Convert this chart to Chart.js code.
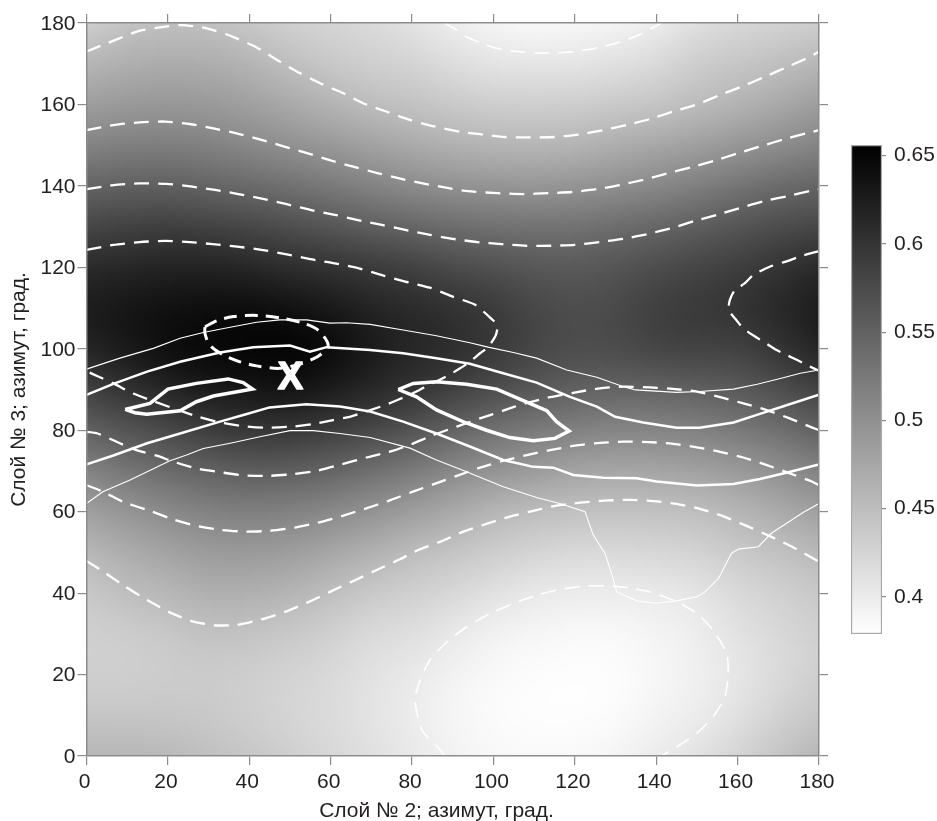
<!DOCTYPE html>
<html lang="ru">
<head>
<meta charset="utf-8">
<title>Слой № 2 / Слой № 3</title>
<script src="https://cdn.jsdelivr.net/npm/chart.js@4"></script>
<style>
    html, body { margin: 0; padding: 0; background: #fff; }
    #wrap { position: relative; width: 937px; height: 821px; overflow: hidden; }
    #mapChart { position: absolute; left: 0; top: 0; }
    #barChart { position: absolute; left: 841px; top: 135px; }
</style>
</head>
<body>
<div id="wrap">
    <canvas id="mapChart" width="937" height="821"></canvas>
    <canvas id="barChart" width="96" height="510"></canvas>
</div>
<script>
const xLabel = 'Слой № 2; азимут, град.';
const yLabel = 'Слой № 3; азимут, град.';
const azimuthTicks = [0, 20, 40, 60, 80, 100, 120, 140, 160, 180];
const barTicks = [0.65, 0.6, 0.55, 0.5, 0.45, 0.4];
const zMin = 0.379;
const zMax = 0.656;

// field: one list per azimuth of layer 2 (0, 10 ... 180),
// each going from layer 3 = 180 down to 0 in steps of 10
const z000 = [.432,.458,.484,.513,.547,.58,.612,.628,.619,.585,.551,.513,.482,.455,.437,.43,.43,.44,.458];
const z010 = [.444,.467,.489,.518,.551,.586,.615,.635,.632,.602,.565,.528,.493,.47,.449,.432,.43,.44,.458];
const z020 = [.449,.47,.491,.519,.552,.59,.62,.64,.645,.618,.576,.541,.505,.478,.457,.437,.433,.44,.455];
const z030 = [.448,.468,.489,.515,.547,.584,.62,.643,.65,.63,.59,.55,.515,.488,.466,.446,.434,.437,.448];
const z040 = [.44,.461,.483,.507,.541,.58,.615,.645,.654,.635,.597,.555,.518,.488,.466,.443,.431,.431,.44];
const z050 = [.43,.448,.472,.498,.533,.572,.606,.64,.656,.64,.597,.553,.515,.485,.46,.437,.426,.424,.432];
const z060 = [.425,.437,.46,.49,.524,.563,.603,.63,.649,.628,.59,.547,.507,.474,.449,.43,.42,.417,.422];
const z070 = [.42,.43,.449,.48,.513,.553,.595,.617,.63,.615,.578,.535,.496,.464,.436,.417,.41,.408,.413];
const z080 = [.41,.427,.444,.47,.504,.546,.588,.612,.616,.603,.567,.523,.484,.45,.43,.415,.402,.399,.403];
const z090 = [.398,.415,.437,.462,.498,.538,.575,.605,.61,.588,.548,.506,.472,.442,.422,.402,.392,.388,.393];
const z100 = [.39,.407,.432,.458,.494,.534,.57,.595,.597,.575,.533,.495,.456,.433,.411,.392,.385,.382,.387];
const z110 = [.385,.407,.431,.456,.492,.532,.562,.58,.582,.562,.523,.488,.449,.425,.402,.388,.381,.38,.385];
const z120 = [.388,.406,.432,.459,.495,.533,.56,.572,.573,.553,.515,.477,.445,.42,.398,.385,.38,.38,.385];
const z130 = [.39,.412,.437,.467,.5,.54,.565,.577,.576,.548,.51,.475,.444,.42,.399,.385,.38,.382,.39];
const z140 = [.398,.419,.44,.475,.507,.546,.575,.59,.585,.548,.511,.476,.445,.423,.4,.39,.387,.392,.4];
const z150 = [.415,.435,.45,.483,.518,.555,.583,.595,.588,.552,.515,.48,.447,.426,.405,.397,.394,.398,.41];
const z160 = [.422,.44,.46,.492,.53,.565,.589,.603,.583,.558,.524,.487,.457,.437,.42,.41,.405,.41,.425];
const z170 = [.428,.447,.473,.501,.541,.574,.601,.615,.601,.57,.535,.499,.47,.445,.428,.42,.418,.428,.443];
const z180 = [.432,.458,.484,.513,.547,.58,.612,.628,.619,.585,.551,.513,.482,.455,.437,.43,.43,.44,.458];
const zColumns = [z000, z010, z020, z030, z040, z050, z060, z070, z080, z090, z100, z110, z120, z130, z140, z150, z160, z170, z180];

// dashed level lines, [layer 2, layer 3]
const dashA = [[0,173],[7,175.8],[12.7,178],[18.5,179],[23.4,179.5],[29.6,178.7],[36,176.6],[41.8,174],[46.7,171],[52.4,167.7],[57.4,165.2],[63,162.8],[68,160.3],[73.8,158.2],[79.5,156.2],[85,154.7],[91.8,153.3],[96.7,152.7],[102.8,152],[109,151.9],[115,152],[120.8,152.6],[127,153.7],[132.8,155],[138.4,156.4],[144,158.2],[150,160],[155.6,162.3],[161.3,164.5],[166.7,166.8],[172.4,169.3],[177.8,171.7],[180,173]];
const dashB = [[0,153.7],[7,155],[13,155.6],[19.3,155.8],[25.4,155.2],[31.2,154.1],[36.9,152.9],[43,151.3],[48.8,149.6],[54.4,148],[60.2,146.2],[66,144.6],[71.7,143.1],[77.4,141.7],[83.2,140.5],[89.3,139.4],[93.7,138.7],[101,138.2],[107.3,138],[113.4,138.2],[119.3,138.5],[125.4,139.2],[131,140.2],[136.8,141.5],[142.9,143.1],[148.7,144.6],[154.4,146.2],[160,148],[165.9,149.8],[171.6,151.5],[177.3,153],[180,153.7]];
const dashC = [[0,139.2],[6.6,140.2],[13,140.6],[19.7,140.5],[26,139.8],[31.6,139],[37.3,138],[43.4,136.8],[49.2,135.5],[55,134.1],[61,132.9],[66.7,131.6],[72.6,130.4],[78.3,129.2],[84.4,128],[90,127],[96,126.2],[102,125.7],[108,125.3],[114,125.3],[120,125.5],[126,126.2],[132,127],[138,128.2],[144,129.7],[149.5,131.4],[155,132.9],[161,134.7],[166.7,136.3],[172.4,137.5],[178,138.8],[180,139.2]];
const dashD = [[0,124.3],[6.6,125.5],[13,126.2],[19.3,126.5],[25.4,126.2],[31,125.7],[37,125.1],[43,124.3],[49.2,123.2],[55,122],[61,121],[66.7,119.8],[72.6,118.1],[78.3,116.5],[84.4,115],[90,112.8],[95.5,110.8],[99.8,107.1],[101,105.8],[100.6,103.4],[98.7,100.4],[96.7,98.9],[94.2,96.8],[91.8,95.2],[89.3,93.7],[86.4,92.2],[84,91.1],[81.1,89.5],[78.3,88.2],[75.4,87],[72.9,86],[64.7,83.3],[60.6,82.5],[55.7,81.5],[50.8,80.9],[44.3,80.6],[38.5,81],[32.8,81.9],[27.5,83.3],[23,84.8],[16.8,87],[11.5,89],[6.6,91.5],[2.6,93.3],[0,94.5]];
const dashDRight = [[180,124],[176,122.9],[172.4,121.6],[168,120.2],[163.8,118.1],[161.8,116.1],[159.3,114.4],[158.1,112],[157.8,109.5],[159.8,106.9],[161.4,105],[164.3,103],[167,101.3],[169.2,99.9],[172,98.5],[174.9,97.1],[177.4,95.8],[180,94.6]];
const dashE = [[0,79.6],[2.7,79.2],[8.2,76.8],[12.3,75.1],[17.1,73.8],[21.3,72.3],[27,70.6],[32.8,69.7],[38.5,68.9],[45,68.8],[50.8,69.2],[56.5,70],[62.2,71.5],[68.8,73.3],[72.9,74.3],[75.8,75.1],[79.9,76.6],[85.2,78.8],[91,80.9],[96.7,82.9],[102.4,84.8],[107.7,86.6],[113.9,88.1],[119.6,89.2],[126.2,90.3],[132,90.7],[138.4,90.5],[143.4,90.2],[150,89.5],[155.7,88.1],[161.4,86.6],[167,85],[172.8,82.9],[178.2,80.7],[180,80]];
const dashF = [[0,66.5],[4.1,64.9],[9,62.4],[15.6,60.2],[21.3,58.1],[27,56.5],[33.3,55.5],[39,55.1],[45,55.3],[51.2,56.1],[56.9,57.3],[62.7,58.9],[68.4,60.7],[74.1,62.6],[79.9,64.8],[85.2,66.7],[91,68.8],[96.7,70.8],[102.4,72.5],[108.2,73.9],[113.9,75.1],[120,76.2],[126.2,76.9],[132,77.2],[138,77.1],[143.8,76.7],[150,75.8],[155.7,74.7],[161.4,73.3],[167,71.5],[172.8,69.4],[178.2,67.4],[180,66.5]];
const dashG = [[0,47.9],[4.1,45.3],[9.5,41.6],[14.9,38.3],[20.2,35.4],[25.6,33.2],[31.3,32.1],[37,32.2],[43.2,33.6],[48.8,35.4],[54.1,37.6],[59.8,40.3],[65.2,42.8],[70.5,45.3],[77,48.3],[81.5,50.6],[86.9,52.6],[92.6,55.1],[98.3,57],[104,58.8],[109.8,60.2],[115.5,61.5],[121.3,62.2],[127,62.7],[133.5,62.9],[139.2,62.6],[145,61.9],[150.7,60.7],[156.4,58.9],[162.2,56.5],[167.9,54],[173.7,51.2],[180,47.7]];
const dashTop = [[88,180],[91,178.3],[93.4,176.6],[100,174],[105.7,173],[111.9,172.6],[118,172.8],[124,173.6],[130,175],[135.6,177],[141.3,180]];
const dashLow = [[88,0],[86.9,1.5],[82.4,6.4],[80.7,13.8],[82,18.7],[84.4,23.6],[88.6,28],[93.5,31.8],[99.3,35],[105,37.5],[110.6,39.5],[116.3,40.9],[122,41.7],[127.8,41.8],[133.5,41.3],[139.2,40.1],[145,37.9],[150,35],[154,30.9],[157.3,25.2],[157.7,20.3],[156.9,14.6],[154,9.7],[150,5.6],[145.8,2.7],[141.3,0]];
const dashPeak = [[29.1,105.4],[32.1,106.9],[36.1,107.9],[41.8,108.2],[47.5,107.6],[53.2,106.3],[56.9,104.6],[59.4,100.9],[57.4,98.5],[55.7,97.5],[52.9,96.4],[47.5,95.2],[41.8,95.8],[37.7,96.8],[33.6,98.5],[30.3,100.9],[29.1,103.8],[29.1,105.4]];

// solid lines
const thinUpper = [[0,95],[8.2,97.7],[16.4,100.1],[23,102.6],[28.7,104],[35.3,105.3],[41.8,106.5],[47.5,107.1],[54.1,107.1],[59.8,106.3],[63.9,106.4],[69.7,106],[77.8,104.6],[86,103.2],[94.2,101.5],[98.7,100.4],[104.9,99.1],[110.6,97.7],[118,94.8],[125.4,93],[132,90.7],[134.9,89.9],[145,89.3],[150.7,89.5],[159,90.1],[164.8,91.3],[170.5,92.7],[175.4,94],[180,94.8]];
const midUpper = [[0,88.7],[6.6,91.4],[14.9,94.4],[23,96.8],[32.8,99.1],[41,100.4],[50,100.8],[54.9,99.3],[59,100.4],[69.7,99.7],[77.8,98.9],[86,97.7],[94.2,96.3],[102.4,94],[110.6,91.7],[118.8,88.2],[125.4,85.8],[129.9,83.3],[136.8,81.9],[145,80.6],[150.7,80.6],[159,81.9],[165.5,84],[172.2,86.2],[180,88.7]];
const midLower = [[0,71.6],[6.6,73.8],[14.9,76.8],[23,79.2],[32.8,82.1],[39.4,84],[45,85.6],[54,86.4],[62.3,85.8],[69.7,84.6],[77.8,82.1],[86,79.2],[94.2,76],[102.4,72.7],[109.8,71],[114.7,70.8],[119.6,69],[127,68.3],[135.2,68.2],[140.1,67.4],[150,66.4],[159,66.8],[165.5,68],[172.2,69.6],[180,71.6]];
const thinLower = [[0,62],[4,64.9],[10.7,67.8],[20.5,72.5],[24.6,73.9],[28.7,75.5],[35.3,76.8],[42.6,78.4],[50,79.9],[55.7,79.9],[62.3,79.2],[69.7,78.2],[79.5,75.6],[86,72.7],[93.4,69.8],[102.4,66.1],[110.6,63.5],[116.3,62],[122.5,60],[124.5,54.3],[127.4,49.8],[129,44.9],[130.3,40.3],[135.2,38.1],[140.1,37.5],[145,38.1],[150,39.1],[152,40.3],[155.3,43.6],[158.5,49.8],[160.2,50.8],[165.1,51.4],[168.3,54.7],[176.1,59.8],[180,62]];
const lobeLeft = [[9.5,85.1],[15.6,86.6],[20,90.1],[27,91.5],[34.8,92.6],[38.5,91.7],[40.8,90.1],[31.2,88.4],[27,87],[23,84.8],[14.8,83.9],[11.9,84.3],[9.5,85.1]];
const lobeMiddle = [[76.6,90],[80.3,91.5],[86,91.9],[93.4,91.3],[100.8,90.1],[108.2,86.9],[113.1,84.8],[115.5,82.1],[118.6,79.8],[115.1,78],[109.8,77.4],[104,78.2],[98.3,80],[93,81.9],[86,85],[81.1,88.2],[76.6,90]];

const markerText = 'X';
const markerX = 50.1;
const markerY = 92.6;

const inkColor = '#231f20';
const axisColor = '#8c8c8c';
const labelFont = { family: '"Liberation Sans", Arial, sans-serif', size: 21 };

function zToGray(z) {
    const g = 255 * (zMax - z) / (zMax - zMin);
    return Math.max(0, Math.min(255, Math.round(g)));
}

function toPoints(list) {
    return list.map(p => ({ x: p[0], y: p[1] }));
}

function lineDataset(list, width, dash, tension) {
    return {
        data: toPoints(list),
        showLine: true,
        borderColor: '#ffffff',
        borderWidth: width,
        borderDash: dash,
        tension: tension,
        pointRadius: 0,
        pointHitRadius: 0,
        fill: false
    };
}

// cubic spline weights, so the stretched grid shows no creases between cells
function splineWeights(t) {
    return [
        (1 - t) * (1 - t) * (1 - t) / 6,
        (3 * t * t * t - 6 * t * t + 4) / 6,
        (-3 * t * t * t + 3 * t * t + 3 * t + 1) / 6,
        t * t * t / 6
    ];
}

// reads the grid, mirroring the value across the edges
function gridAt(i, j) {
    const nx = zColumns.length;
    const ny = zColumns[0].length;
    const ci = Math.max(0, Math.min(nx - 1, i));
    const cj = Math.max(0, Math.min(ny - 1, j));
    let v = zColumns[ci][cj];
    if (i !== ci) v = 2 * v - zColumns[2 * ci - i][cj];
    if (j !== cj) v = 2 * v - zColumns[ci][2 * cj - j];
    return v;
}

// Heat map: the grid is smoothed onto a small canvas and stretched over the axes
const heatPlugin = {
    id: 'heat',
    beforeDatasetsDraw(chart) {
        const steps = 10;
        const nx = (zColumns.length - 1) * steps + 1;
        const ny = (zColumns[0].length - 1) * steps + 1;
        const off = document.createElement('canvas');
        off.width = nx;
        off.height = ny;
        const offCtx = off.getContext('2d');
        const img = offCtx.createImageData(nx, ny);
        for (let py = 0; py < ny; py++) {
            const j0 = Math.min(Math.floor(py / steps), zColumns[0].length - 2);
            const wy = splineWeights(py / steps - j0);
            for (let px = 0; px < nx; px++) {
                const i0 = Math.min(Math.floor(px / steps), zColumns.length - 2);
                const wx = splineWeights(px / steps - i0);
                let z = 0;
                for (let a = 0; a < 4; a++) {
                    for (let b = 0; b < 4; b++) {
                        z += wx[a] * wy[b] * gridAt(i0 + a - 1, j0 + b - 1);
                    }
                }
                const k = (py * nx + px) * 4;
                const g = zToGray(z);
                img.data[k] = g;
                img.data[k + 1] = g;
                img.data[k + 2] = g;
                img.data[k + 3] = 255;
            }
        }
        offCtx.putImageData(img, 0, 0);

        const xs = chart.scales.x;
        const ys = chart.scales.y;
        const left = xs.getPixelForValue(0);
        const right = xs.getPixelForValue(180);
        const top = ys.getPixelForValue(180);
        const bottom = ys.getPixelForValue(0);
        const ctx = chart.ctx;
        ctx.save();
        ctx.imageSmoothingEnabled = true;
        ctx.imageSmoothingQuality = 'high';
        ctx.drawImage(off, 0.5, 0.5, nx - 1, ny - 1, left, top, right - left, bottom - top);
        ctx.restore();
    }
};

// The X marker and the x title, which sits off centre in the reference
const textPlugin = {
    id: 'texts',
    afterDatasetsDraw(chart) {
        const ctx = chart.ctx;
        ctx.save();
        ctx.textAlign = 'center';
        ctx.textBaseline = 'middle';
        ctx.fillStyle = '#ffffff';
        ctx.strokeStyle = '#ffffff';
        ctx.lineWidth = 1.5;
        ctx.lineJoin = 'round';
        ctx.font = 'bold 38px "Liberation Sans", Arial, sans-serif';
        const mx = chart.scales.x.getPixelForValue(markerX);
        const my = chart.scales.y.getPixelForValue(markerY);
        ctx.strokeText(markerText, mx, my);
        ctx.fillText(markerText, mx, my);
        ctx.fillStyle = inkColor;
        ctx.textBaseline = 'alphabetic';
        ctx.font = '21px "Liberation Sans", Arial, sans-serif';
        ctx.fillText(xLabel, 436.5, 817);
        ctx.restore();
    }
};

function axisBase(position, showLabels, fitSize) {
    return {
        type: 'linear',
        position: position,
        min: 0,
        max: 180,
        afterBuildTicks: s => { s.ticks = azimuthTicks.map(v => ({ value: v })); },
        afterFit: s => {
            if (s.isHorizontal()) s.height = fitSize;
            else s.width = fitSize;
        },
        border: { display: true, color: axisColor, width: 1.5, z: 1 },
        grid: { drawOnChartArea: false, drawTicks: true, tickLength: 9, color: axisColor, lineWidth: 1.2 },
        ticks: { display: showLabels, color: inkColor, font: labelFont, autoSkip: false, maxRotation: 0, padding: 2, callback: v => String(v) }
    };
}

const xAxis = axisBase('bottom', true, 65);
xAxis.ticks.labelOffset = -2;
xAxis.ticks.padding = 5;
const yAxis = axisBase('left', true, 86.5);
yAxis.ticks.labelOffset = 1;
yAxis.title = { display: true, text: yLabel, color: inkColor, font: { family: labelFont.family, size: 21 }, padding: { top: 6.5, bottom: 0 } };
const xTopAxis = axisBase('top', false, 23);
const yRightAxis = axisBase('right', false, 118);

new Chart(document.getElementById('mapChart').getContext('2d'), {
    type: 'scatter',
    data: {
        datasets: [
            lineDataset(dashA, 2.3, [15, 9], 0.2),
            lineDataset(dashB, 2.3, [15, 9], 0.2),
            lineDataset(dashC, 2.3, [15, 9], 0.2),
            lineDataset(dashD, 2.3, [15, 9], 0.2),
            lineDataset(dashDRight, 2.3, [15, 9], 0.2),
            lineDataset(dashE, 2.3, [15, 9], 0.2),
            lineDataset(dashF, 2.3, [15, 9], 0.2),
            lineDataset(dashG, 2.3, [15, 9], 0.2),
            lineDataset(dashTop, 1.6, [15, 9], 0.2),
            lineDataset(dashLow, 1.6, [15, 9], 0.2),
            lineDataset(dashPeak, 3, [13, 8], 0.3),
            lineDataset(thinUpper, 1.1, [], 0),
            lineDataset(midUpper, 2.5, [], 0),
            lineDataset(midLower, 2.5, [], 0),
            lineDataset(thinLower, 1.1, [], 0),
            lineDataset(lobeLeft, 3.5, [], 0),
            lineDataset(lobeMiddle, 3.5, [], 0)
        ]
    },
    options: {
        responsive: false,
        animation: false,
        layout: { padding: 0 },
        plugins: { legend: { display: false }, tooltip: { enabled: false } },
        scales: { x: xAxis, y: yAxis, x2: xTopAxis, y2: yRightAxis }
    },
    plugins: [heatPlugin, textPlugin]
});

// Colour bar
new Chart(document.getElementById('barChart').getContext('2d'), {
    type: 'bar',
    data: {
        labels: [''],
        datasets: [{
            data: [[zMin, zMax]],
            barPercentage: 1,
            categoryPercentage: 1,
            borderColor: '#a8a8a8',
            borderWidth: 1.5,
            borderSkipped: false,
            backgroundColor: ctx => {
                const area = ctx.chart.chartArea;
                if (!area) return '#808080';
                const grad = ctx.chart.ctx.createLinearGradient(0, area.top, 0, area.bottom);
                const top = zToGray(zMax);
                const bottom = zToGray(zMin);
                grad.addColorStop(0, `rgb(${top},${top},${top})`);
                grad.addColorStop(1, `rgb(${bottom},${bottom},${bottom})`);
                return grad;
            }
        }]
    },
    options: {
        responsive: false,
        animation: false,
        layout: { padding: { left: 10, top: 10, bottom: 11, right: 0 } },
        plugins: { legend: { display: false }, tooltip: { enabled: false } },
        scales: {
            x: { display: false },
            y: {
                position: 'right',
                min: zMin,
                max: zMax,
                afterBuildTicks: s => { s.ticks = barTicks.map(v => ({ value: v })); },
                afterFit: s => { s.width = 55; s.paddingTop = 0; s.paddingBottom = 0; },
                border: { display: false },
                grid: { drawOnChartArea: false, drawTicks: true, tickLength: 4, color: axisColor, lineWidth: 1.2 },
                ticks: { color: inkColor, font: labelFont, padding: 8, autoSkip: false, callback: v => String(v) }
            }
        }
    }
});
</script>
</body>
</html>
